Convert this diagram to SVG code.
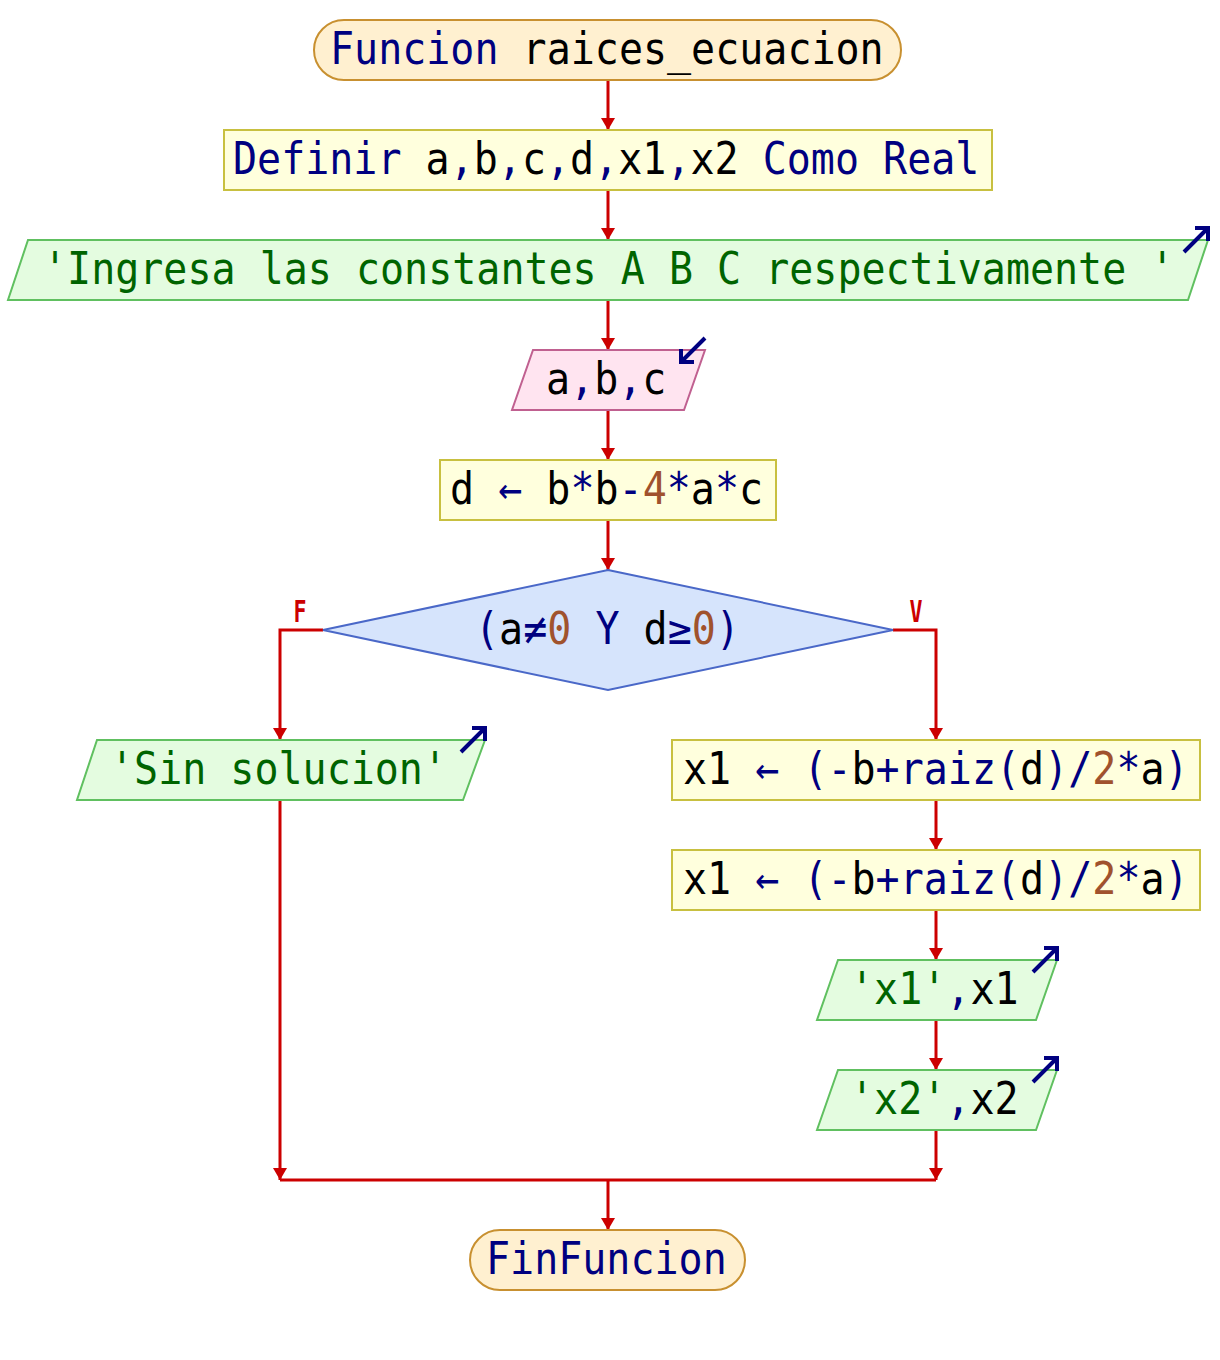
<svg xmlns="http://www.w3.org/2000/svg" width="1220" height="1360" viewBox="0 0 1220 1360">
<defs>
<marker id="ah" viewBox="0 0 12 14" refX="12" refY="7" markerWidth="12" markerHeight="14" markerUnits="userSpaceOnUse" orient="auto">
<path d="M0,0 L12,7 L0,14 Z" fill="#cc0000"/>
</marker>
<style>
.t{font-family:"DejaVu Sans Mono","Liberation Mono",monospace;font-size:40px;fill:#000}
.k{fill:#000080}
.n{fill:#a0522d}
.s{fill:#006400}
.term{fill:#fff0d0;stroke:#c89030;stroke-width:2}
.proc{fill:#ffffdd;stroke:#c8c040;stroke-width:2}
.out{fill:#e4fce0;stroke:#60c060;stroke-width:2}
.inp{fill:#ffe4f0;stroke:#c06090;stroke-width:2}
.dec{fill:#d6e4fc;stroke:#4a68c8;stroke-width:2}
.ic{fill:none;stroke:#000080;stroke-width:4;stroke-linecap:butt}
.c{fill:none;stroke:#cc0000;stroke-width:3}
.lbl{font-family:"DejaVu Sans Mono","Liberation Mono",monospace;font-size:30px;font-weight:bold;fill:#cc0000}
</style>
</defs>
<rect width="1220" height="1360" fill="#fff"/>
<g id="connectors">
<path class="c" d="M608,80 V130" marker-end="url(#ah)"/>
<path class="c" d="M608,190 V240" marker-end="url(#ah)"/>
<path class="c" d="M608,300 V350" marker-end="url(#ah)"/>
<path class="c" d="M608,410 V460" marker-end="url(#ah)"/>
<path class="c" d="M608,520 V570" marker-end="url(#ah)"/>
<path class="c" d="M323,630 H280 V740" marker-end="url(#ah)"/>
<path class="c" d="M893,630 H936 V740" marker-end="url(#ah)"/>
<path class="c" d="M936,800 V850" marker-end="url(#ah)"/>
<path class="c" d="M936,910 V960" marker-end="url(#ah)"/>
<path class="c" d="M936,1020 V1070" marker-end="url(#ah)"/>
<path class="c" d="M280,800 V1180" marker-end="url(#ah)"/>
<path class="c" d="M936,1130 V1180" marker-end="url(#ah)"/>
<path class="c" d="M280,1180 H936"/>
<path class="c" d="M608,1180 V1230" marker-end="url(#ah)"/>
<text class="lbl" x="300" y="622" text-anchor="middle" textLength="13" lengthAdjust="spacingAndGlyphs">F</text>
<text class="lbl" x="916" y="622" text-anchor="middle" textLength="13" lengthAdjust="spacingAndGlyphs">V</text>
</g>
<g id="start">
<rect class="term" x="314" y="20" width="587" height="60" rx="30" ry="30"/>
<text class="t" transform="translate(330,64) scale(1,1.1)"><tspan class="k">Funcion</tspan> raices_ecuacion</text>
</g>
<g id="definir">
<rect class="proc" x="224" y="130" width="768" height="60"/>
<text class="t" transform="translate(233,174) scale(1,1.1)"><tspan class="k">Definir</tspan> a<tspan class="k">,</tspan>b<tspan class="k">,</tspan>c<tspan class="k">,</tspan>d<tspan class="k">,</tspan>x1<tspan class="k">,</tspan>x2 <tspan class="k">Como Real</tspan></text>
</g>
<g id="escribir1">
<polygon class="out" points="28,240 1208,240 1188,300 8,300"/>
<text class="t s" transform="translate(43,284) scale(1,1.1)">'Ingresa las constantes A B C respectivamente '</text>
<path class="ic" d="M1184,252 L1208,228 M1195,228 H1208 V241"/>
</g>
<g id="leer">
<polygon class="inp" points="533,350 705,350 684,410 512,410"/>
<text class="t" transform="translate(546,394) scale(1,1.1)">a<tspan class="k">,</tspan>b<tspan class="k">,</tspan>c</text>
<path class="ic" d="M705,338 L681,362 M681,349 V362 H694"/>
</g>
<g id="asig_d">
<rect class="proc" x="440" y="460" width="336" height="60"/>
<text class="t" transform="translate(450,504) scale(1,1.1)">d <tspan class="k">←</tspan> b<tspan class="k">*</tspan>b<tspan class="k">-</tspan><tspan class="n">4</tspan><tspan class="k">*</tspan>a<tspan class="k">*</tspan>c</text>
</g>
<g id="si">
<polygon class="dec" points="608,570 893,630 608,690 323,630"/>
<text class="t" transform="translate(475,644) scale(1,1.1)"><tspan class="k">(</tspan>a<tspan class="k">≠</tspan><tspan class="n">0</tspan> <tspan class="k">Y</tspan> d<tspan class="k">≥</tspan><tspan class="n">0</tspan><tspan class="k">)</tspan></text>
</g>
<g id="sin_solucion">
<polygon class="out" points="97,740 485,740 463,800 77,800"/>
<text class="t s" transform="translate(110,784) scale(1,1.1)">'Sin solucion'</text>
<path class="ic" d="M461,752 L485,728 M472,728 H485 V741"/>
</g>
<g id="asig_x1a">
<rect class="proc" x="672" y="740" width="528" height="60"/>
<text class="t" transform="translate(683,784) scale(1,1.1)">x1 <tspan class="k">←</tspan> <tspan class="k">(-</tspan>b<tspan class="k">+raiz(</tspan>d<tspan class="k">)/</tspan><tspan class="n">2</tspan><tspan class="k">*</tspan>a<tspan class="k">)</tspan></text>
</g>
<g id="asig_x1b">
<rect class="proc" x="672" y="850" width="528" height="60"/>
<text class="t" transform="translate(683,894) scale(1,1.1)">x1 <tspan class="k">←</tspan> <tspan class="k">(-</tspan>b<tspan class="k">+raiz(</tspan>d<tspan class="k">)/</tspan><tspan class="n">2</tspan><tspan class="k">*</tspan>a<tspan class="k">)</tspan></text>
</g>
<g id="escribir_x1">
<polygon class="out" points="838,960 1057,960 1036,1020 817,1020"/>
<text class="t" transform="translate(850,1004) scale(1,1.1)"><tspan class="s">'x1'</tspan><tspan class="k">,</tspan>x1</text>
<path class="ic" d="M1033,972 L1057,948 M1044,948 H1057 V961"/>
</g>
<g id="escribir_x2">
<polygon class="out" points="838,1070 1057,1070 1036,1130 817,1130"/>
<text class="t" transform="translate(850,1114) scale(1,1.1)"><tspan class="s">'x2'</tspan><tspan class="k">,</tspan>x2</text>
<path class="ic" d="M1033,1082 L1057,1058 M1044,1058 H1057 V1071"/>
</g>
<g id="fin">
<rect class="term" x="470" y="1230" width="275" height="60" rx="30" ry="30"/>
<text class="t k" transform="translate(486,1274) scale(1,1.1)">FinFuncion</text>
</g>
</svg>
